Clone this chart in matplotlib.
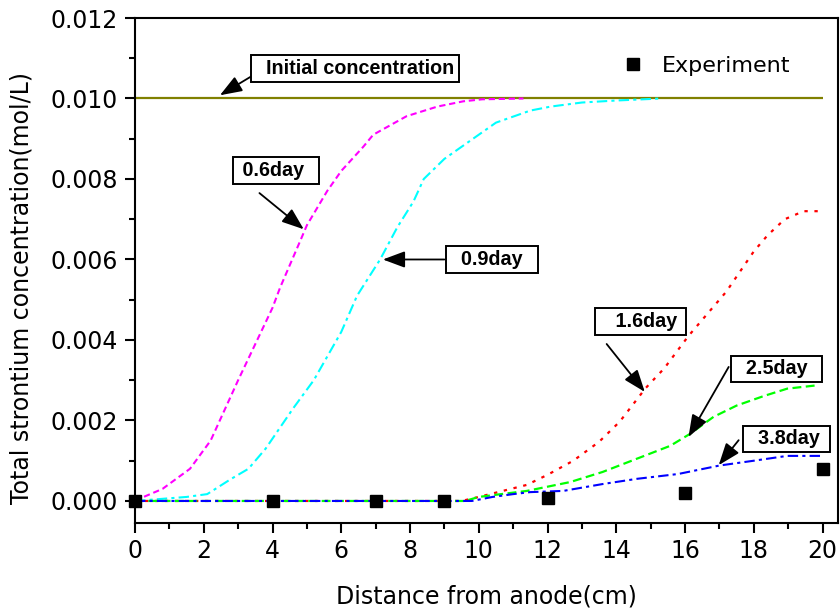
import numpy as np
import matplotlib
matplotlib.use("Agg")
import matplotlib.pyplot as plt
from matplotlib.ticker import MultipleLocator, FormatStrFormatter

plt.rcParams['font.family'] = ['DejaVu Sans']

# curves
x_06 = [0, 0.25, 0.8, 1.6, 2.2, 3.0, 3.5, 4.0, 4.22, 4.8, 5.0, 5.59, 6.0, 6.64, 6.93, 7.9, 8.8, 9.55, 10.1, 11.3]
y_06 = [0, 0.0001, 0.0003, 0.0008, 0.0015, 0.003, 0.0039, 0.0048, 0.0053, 0.00645, 0.00685, 0.0077,
        0.0082, 0.0088, 0.0091, 0.00956, 0.0098, 0.00993, 0.00998, 0.0100]

x_09 = [0, 1.5, 2.1, 2.8, 3.3, 3.8, 4.6, 5.2, 6.0, 6.46, 7.13, 7.63, 8.1, 8.4, 9.0, 9.5, 10.5, 11.5, 12.1, 13.0, 14.0, 15.3]
y_09 = [0, 0.0001, 0.00017, 0.00055, 0.0008, 0.0013, 0.0023, 0.0030, 0.0042, 0.0051, 0.0060, 0.0068,
        0.00744, 0.0080, 0.0085, 0.0088, 0.0094, 0.0097, 0.0098, 0.0099, 0.00995, 0.0100]

x_16 = [0, 9.5, 10.0, 10.7, 11.4, 12.0, 12.75, 13.5, 14.1, 14.85, 15.4, 16.1, 16.5, 17.2, 18.0, 18.4, 18.9, 19.45, 20.0]
y_16 = [0, 0, 0.0001, 0.00025, 0.0004, 0.00065, 0.001, 0.00147, 0.00197, 0.0028, 0.0033, 0.0041, 0.0045,
        0.0052, 0.0062, 0.0066, 0.0070, 0.0072, 0.0072]

x_25 = [0, 9.6, 10.0, 11.4, 12.66, 13.6, 14.6, 15.57, 16.15, 16.83, 17.5, 18.3, 18.97, 19.8]
y_25 = [0, 0, 0.0001, 0.00025, 0.00047, 0.00072, 0.00105, 0.00137, 0.00167, 0.00209, 0.00237, 0.00261,
        0.00279, 0.00287]

x_38 = [0, 9.8, 10.4, 11.0, 11.5, 12.46, 13.6, 14.6, 15.8, 17.0, 18.0, 18.97, 19.94]
y_38 = [0, 0, 0.0001, 0.00017, 0.00022, 0.00025, 0.00042, 0.00055, 0.00067, 0.00088, 0.001, 0.00112, 0.00112]

init_x = [0, 20]
init_y = [0.010, 0.010]

exp_x = [0, 4, 7, 9, 12, 16, 20]
exp_y = [0, 0, 0, 0, 0.00007, 0.0002, 0.0008]

fig = plt.figure(figsize=(8.4, 6.12), dpi=100)
ax = fig.add_axes([135/840, 1 - 522.7/612, 703/840, 504.7/612])

ax.plot(init_x, init_y, color='#808000', lw=1.6, solid_capstyle='butt')
ax.plot(x_06, y_06, color='#ff00ff', lw=1.5, dashes=(3, 1.8))
ax.plot(x_09, y_09, color='#00ffff', lw=1.5, dashes=(5, 2, 1.5, 2))
ax.plot(x_16, y_16, color='#ff0000', lw=1.6, dashes=(1.5, 3))
ax.plot(x_25, y_25, color='#00ff00', lw=1.6, dashes=(4, 2))
ax.plot(x_38, y_38, color='#0000ff', lw=1.5, dashes=(5, 2, 1.5, 2))
ax.plot(exp_x, exp_y, 's', color='k', ms=9, label='Experiment', zorder=5, clip_on=False)

ax.set_xlim(0, 20.45)
ax.set_ylim(-0.00054, 0.012)
ax.xaxis.set_major_locator(MultipleLocator(2))
ax.xaxis.set_minor_locator(MultipleLocator(1))
ax.yaxis.set_major_locator(MultipleLocator(0.002))
ax.yaxis.set_minor_locator(MultipleLocator(0.001))
ax.yaxis.set_major_formatter(FormatStrFormatter('%.3f'))
ax.tick_params(which='major', direction='out', length=7.5, width=1.5, labelsize=17)
ax.tick_params(which='minor', direction='out', length=4, width=1.5)
ax.tick_params(axis='x', pad=4)
ax.tick_params(axis='y', pad=5)
for s in ax.spines.values():
    s.set_linewidth(1.5)

ax.set_xlabel('Distance from anode(cm)', fontsize=17, labelpad=16)
ax.set_ylabel('Total strontium concentration(mol/L)', fontsize=17)
ax.yaxis.set_label_coords(-0.144, 0.465)

ax.legend(loc='center left', bbox_to_anchor=(0.664, 0.905), frameon=False, fontsize=16,
          handlelength=1.0, handletextpad=0.8, borderpad=0.4)

# label boxes: (text, box centre, arrow tail, arrow tip)
notes = [
    ('  Initial concentration', (6.4, 0.01075), (3.48, 0.01060), (2.47, 0.01008)),
    (' 0.6day  ', (4.1, 0.0082), (3.62, 0.00765), (4.91, 0.00675)),
    ('  0.9day  ', (10.38, 0.0060), (9.0, 0.0060), (7.21, 0.0060)),
    ('   1.6day ', (14.71, 0.00445), (13.72, 0.0039), (14.83, 0.00271)),
    ('  2.5day  ', (18.66, 0.00328), (17.27, 0.00333), (16.1, 0.00159)),
    ('  3.8day ', (18.95, 0.00154), (17.56, 0.00151), (16.98, 0.00089)),
]
for txt, c, tail, tip in notes:
    ax.annotate('', xy=tip, xytext=tail,
                arrowprops=dict(arrowstyle='-|>,head_length=0.75,head_width=0.28', color='k',
                                lw=1.3, mutation_scale=18, shrinkA=0, shrinkB=0))
    ax.text(c[0], c[1], txt, ha='center', va='center', fontsize=14.2, fontweight='bold',
            family='Liberation Sans', zorder=6,
            bbox=dict(boxstyle='square,pad=0.2', fc='white', ec='black', lw=1.4))

fig.savefig('out.png', dpi=100)
